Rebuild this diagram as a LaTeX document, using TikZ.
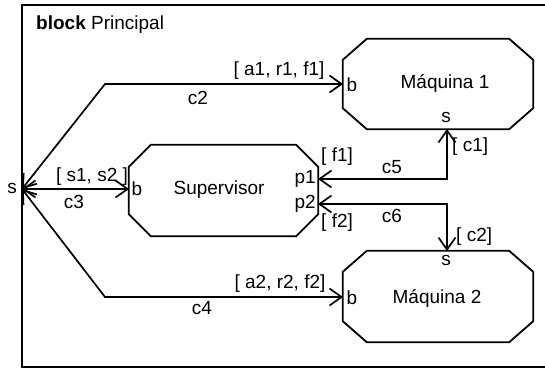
\documentclass[tikz,border=0pt]{standalone}
\usepackage{fontspec}
\setmainfont{Liberation Sans}
\usetikzlibrary{arrows.meta,calc}
\newcommand\octpath[3]{%
  \draw[octline] ($(#1.north west)+(#2,0)$) -- ($(#1.north east)+(-#2,0)$)
    -- ($(#1.north east)+(0,#3)$) -- ($(#1.south east)+(0,-#3)$)
    -- ($(#1.south east)+(-#2,0)$) -- ($(#1.south west)+(#2,0)$)
    -- ($(#1.south west)+(0,-#3)$) -- ($(#1.north west)+(0,#3)$) -- cycle;}
\begin{document}
\begin{tikzpicture}[x=1pt,y=-1pt,
  lab/.style={inner sep=0pt, font=\fontsize{19}{22}\selectfont},
  octline/.style={line width=1.8pt, line join=miter},
  box/.style={draw=none, inner sep=0pt, rectangle},
  conn/.style={line width=1.7pt, {Straight Barb[length=12pt,width=17pt]}-{Straight Barb[length=12pt,width=17pt]}},
  frame/.style={line width=1.5pt}]
\useasboundingbox (0,0) rectangle (545,368);
\draw[frame] (22,5) rectangle (548,367);
\node[lab, anchor=west] (title) at (36,25) {\textbf{block} Principal};

% blocks
\node[box, minimum width=189pt, minimum height=91pt] (sup) at (223.5,190.5) {};
\node[box, minimum width=190pt, minimum height=90pt] (m1) at (438,84) {};
\node[box, minimum width=190pt, minimum height=91pt] (m2) at (438,296.5) {};
\octpath{sup}{22}{22}
\octpath{m1}{24}{21}
\octpath{m2}{24}{21}

\node[lab] (tsup) at (219,190) {Supervisor};
\node[lab] (tm1) at (445,83) {Máquina 1};
\node[lab] (tm2) at (437,298) {Máquina 2};

% ports
\coordinate (s) at (22,189);
\coordinate (supb) at (129,189);
\coordinate (supp1) at (318,179);
\coordinate (supp2) at (318,204);
\coordinate (m1b) at (343,84);
\coordinate (m1s) at (447,129);
\coordinate (m2b) at (343,297);
\coordinate (m2s) at (447,251);
\coordinate (k2) at (105,84);
\coordinate (k4) at (105,297);
\coordinate (k5) at (447,179);
\coordinate (k6) at (447,204);

% connectors
\draw[conn] (s) -- (k2) -- (m1b);
\draw[conn] (s) -- (supb);
\draw[conn] (s) -- (k4) -- (m2b);
\draw[conn] (supp1) -- (k5) -- (m1s);
\draw[conn] (supp2) -- (k6) -- (m2s);

% port labels
\node[lab] (ls) at (12,188) {s};
\node[lab] (lsupb) at (137,189) {b};
\node[lab, anchor=east] (lp1) at (316,179) {p1};
\node[lab, anchor=east] (lp2) at (316,204) {p2};
\node[lab] (lm1b) at (352,85) {b};
\node[lab] (lm1s) at (446,117) {s};
\node[lab] (lm2b) at (352,298) {b};
\node[lab] (lm2s) at (446,260) {s};

% connector labels
\node[lab] (la1) at (279,71) {[ a1, r1, f1]};
\node[lab] (lc2) at (198,98) {c2};
\node[lab] (ls1) at (92,177) {[ s1, s2 ]};
\node[lab] (lc3) at (74,202) {c3};
\node[lab] (la2) at (280,284) {[ a2, r2, f2]};
\node[lab] (lc4) at (202,308) {c4};
\node[lab, anchor=west] (lf1) at (321,157) {[ f1]};
\node[lab, anchor=west] (lf2) at (321,223) {[ f2]};
\node[lab] (lc5) at (392,167) {c5};
\node[lab] (lc6) at (392,216) {c6};
\node[lab, anchor=west] (lcc1) at (452,147) {[ c1]};
\node[lab, anchor=west] (lcc2) at (456,237) {[ c2]};
\end{tikzpicture}
\end{document}
